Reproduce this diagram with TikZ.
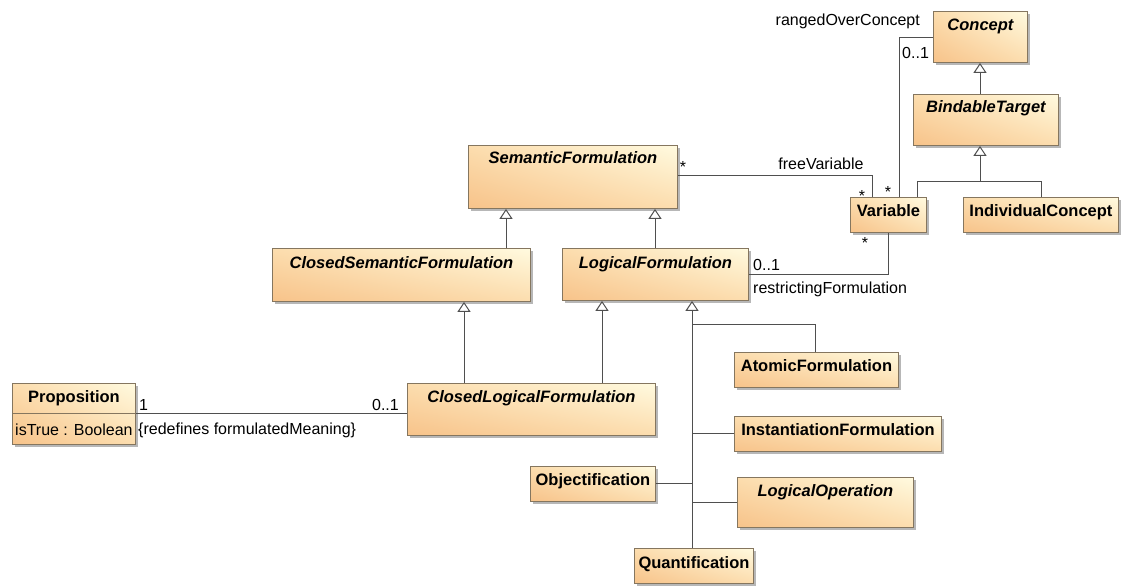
\documentclass[tikz,border=0pt]{standalone}
\usepackage{fontspec}
\setmainfont{Liberation Sans}
\usetikzlibrary{arrows.meta,shadows,shadings,calc}

\definecolor{umldark}{HTML}{F7C38A}
\definecolor{umlmid}{HTML}{FCDDAE}
\definecolor{umllight}{HTML}{FFFADF}
\definecolor{umlborder}{HTML}{85765F}
\definecolor{umlline}{HTML}{4F4F4F}

\tikzset{
  cls/.style={rectangle, draw=umlborder, line width=0.9pt, anchor=north west, inner sep=0pt,
    lower left=umldark, upper right=umllight, upper left=umlmid, lower right=umlmid,
    drop shadow={shadow xshift=3pt, shadow yshift=-3pt, opacity=0.4, fill=black!70}},
  ctitle/.style={font=\fontsize{16.5}{19}\selectfont\bfseries, anchor=base, inner sep=0pt},
  atitle/.style={ctitle, font=\fontsize{16.5}{19}\selectfont\bfseries\itshape},
  lbl/.style={font=\fontsize{16}{19}\selectfont, inner sep=0pt},
  assoc/.style={draw=umlline, line width=1pt},
  gen/.style={assoc, -{Triangle[open, length=10pt, width=13pt, fill=white]}},
}

\begin{document}
\begin{tikzpicture}[x=1pt, y=-1pt]
\useasboundingbox (0,0) rectangle (1121,588);

% classes
\node[cls, minimum width=94pt,  minimum height=51pt] (concept)   at (933,11)  {};
\node[cls, minimum width=145pt, minimum height=51pt] (bindable)  at (913,94)  {};
\node[cls, minimum width=76pt,  minimum height=35pt] (variable)  at (850,197) {};
\node[cls, minimum width=155pt, minimum height=35pt] (indiv)     at (963,197) {};
\node[cls, minimum width=209pt, minimum height=63pt] (semantic)  at (468,145) {};
\node[cls, minimum width=258pt, minimum height=53pt] (closedsem) at (272,248) {};
\node[cls, minimum width=186pt, minimum height=52pt] (logical)   at (562,248) {};
\node[cls, minimum width=248pt, minimum height=52pt] (closedlog) at (407,383) {};
\node[cls, minimum width=123pt, minimum height=61pt] (prop)      at (12,383)  {};
\node[cls, minimum width=164pt, minimum height=35pt] (atomic)    at (734,352) {};
\node[cls, minimum width=207pt, minimum height=35pt] (inst)      at (734,416) {};
\node[cls, minimum width=125pt, minimum height=35pt] (objectif)  at (530,466) {};
\node[cls, minimum width=176pt, minimum height=50pt] (logop)     at (737,477) {};
\node[cls, minimum width=119pt, minimum height=35pt] (quant)     at (634,548) {};

% class names
\node[atitle] (tconcept)   at ([yshift=-20pt]concept.north)   {Concept};
\node[atitle] (tbindable)  at ([yshift=-19pt]bindable.north)  {BindableTarget};
\node[ctitle] (tvariable)  at ([yshift=-19pt]variable.north)  {Variable};
\node[ctitle] (tindiv)     at ([yshift=-19pt]indiv.north)     {IndividualConcept};
\node[atitle] (tsemantic)  at ([yshift=-19pt]semantic.north)  {SemanticFormulation};
\node[atitle] (tclosedsem) at ([yshift=-20pt]closedsem.north) {ClosedSemanticFormulation};
\node[atitle] (tlogical)   at ([yshift=-20pt]logical.north)   {LogicalFormulation};
\node[atitle] (tclosedlog) at ([yshift=-19pt]closedlog.north) {ClosedLogicalFormulation};
\node[ctitle] (tprop)      at ([yshift=-19pt]prop.north)      {Proposition};
\node[ctitle] (tatomic)    at ([yshift=-19pt]atomic.north)    {AtomicFormulation};
\node[ctitle] (tinst)      at ([yshift=-19pt]inst.north)      {InstantiationFormulation};
\node[ctitle] (tobjectif)  at ([yshift=-19pt]objectif.north)  {Objectification};
\node[atitle] (tlogop)     at ([yshift=-19pt]logop.north)     {LogicalOperation};
\node[ctitle] (tquant)     at ([yshift=-20pt]quant.north)     {Quantification};

% attribute compartment of Proposition
\draw[draw=umlborder, line width=0.9pt] (prop.west |- 0,413) -- (prop.east |- 0,413);
\node[lbl, anchor=base west] (attr) at (15,435) {isTrue : Boolean};

% generalizations
\draw[gen] (closedsem.north -| 506,0) -- (semantic.south -| 506,0);
\draw[gen] (logical.north -| 655,0)   -- (semantic.south -| 655,0);
\draw[gen] (closedlog.north -| 464,0) -- (closedsem.south -| 464,0);
\draw[gen] (closedlog.north -| 602,0) -- (logical.south -| 602,0);
\draw[gen] (bindable.north -| 980,0)  -- (concept.south -| 980,0);

\coordinate (trunk) at (692,300);
\coordinate (jA) at (692,324);
\draw[gen] (quant.north -| trunk) -- (logical.south -| trunk);
\draw[assoc] (atomic.north -| 815,0) |- (jA);
\draw[assoc] (inst.west) -- (inst.west -| trunk);
\draw[assoc] (objectif.east) -- (objectif.east -| trunk);
\draw[assoc] (logop.west) -- (logop.west -| trunk);

\coordinate (jB) at (980,182);
\draw[gen] (variable.north -| 917,0) |- (jB) -- (bindable.south -| jB);
\draw[assoc] (indiv.north -| 1041,0) |- (jB);

% associations
\draw[assoc] (concept.west |- 0,38) -| (variable.north -| 899,0);
\draw[assoc] (semantic.east |- 0,176) -| (variable.north -| 872,0);
\draw[assoc] (logical.east |- 0,274) -| (variable.south -| 888,0);
\draw[assoc] (prop.east |- 0,413) -- (closedlog.west |- 0,413);

% association end labels
\node[lbl, anchor=base east] (lranged) at (920,26)  {rangedOverConcept};
\node[lbl, anchor=base west] (mranged) at (902,59)  {0..1};
\node[lbl, anchor=base]      (sranged) at (888,197) {*};
\node[lbl, anchor=base]      (sfree1)  at (683,173) {*};
\node[lbl, anchor=base]      (lfree)   at (821,170) {freeVariable};
\node[lbl, anchor=base]      (sfree2)  at (862,201) {*};
\node[lbl, anchor=base west] (mrestr)  at (753,270) {0..1};
\node[lbl, anchor=base west] (lrestr)  at (753,293) {restrictingFormulation};
\node[lbl, anchor=base]      (srestr)  at (865,248) {*};
\node[lbl, anchor=base west] (mprop)   at (139,410) {1};
\node[lbl, anchor=base east] (mclosed) at (399,410) {0..1};
\node[lbl, anchor=base west] (lredef)  at (138,434) {\{redefines formulatedMeaning\}};
\end{tikzpicture}
\end{document}
